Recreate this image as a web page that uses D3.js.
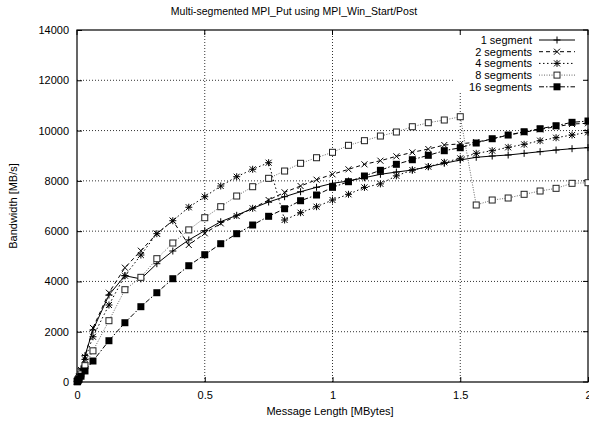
<!DOCTYPE html>
<html>
<head>
<meta charset="utf-8">
<script src="https://d3js.org/d3.v7.min.js"></script>
<style>
  * { margin: 0; padding: 0; }
  body { background: #fff; width: 589px; height: 422px; overflow: hidden; }
  text { font-family: "Liberation Sans", Arial, sans-serif; fill: #000; }
</style>
</head>
<body>
<div id="chart"></div>
<script>
// message sizes in KB (x axis is shown in MB)
var sizesKB = [1, 2, 4, 8, 16, 32, 64, 128, 192, 256, 320, 384, 448, 512, 576, 640, 704, 768,
  832, 896, 960, 1024, 1088, 1152, 1216, 1280, 1344, 1408, 1472, 1536, 1600, 1664, 1728,
  1792, 1856, 1920, 1984, 2048];

var seg1 = [30, 60, 120, 250, 520, 1050, 2070, 3460, 4228, 4100, 4705, 5210, 5650, 6017, 6375,
  6630, 6908, 7159, 7370, 7568, 7743, 7902, 7994, 8125, 8260, 8351, 8431, 8563, 8697, 8830,
  8936, 8988, 9028, 9094, 9160, 9226, 9280, 9320];
var seg2 = [25, 55, 110, 230, 480, 1000, 2150, 3550, 4546, 5222, 5900, 6415, 5450, 5914, 6310,
  6600, 6908, 7238, 7544, 7795, 8046, 8260, 8459, 8658, 8801, 8976, 9135, 9266, 9426, 9470,
  9540, 9664, 9823, 9930, 10050, 10153, 10260, 10290];
var seg4 = [20, 45, 95, 200, 420, 900, 1800, 3062, 4230, 5050, 5900, 6415, 6950, 7370, 7795,
  8165, 8460, 8722, 6443, 6733, 6972, 7238, 7465, 7740, 7880, 8200, 8431, 8563, 8737, 8896,
  9094, 9200, 9333, 9452, 9598, 9716, 9823, 9930];
var seg8 = [15, 30, 70, 150, 320, 650, 1240, 2438, 3671, 4163, 4904, 5528, 6050, 6534, 6972,
  7397, 7767, 8101, 8391, 8698, 8920, 9135, 9413, 9598, 9783, 9943, 10153, 10312, 10420, 10551,
  7040, 7238, 7318, 7465, 7596, 7703, 7902, 7926];
var seg16 = [10, 20, 50, 110, 230, 440, 835, 1642, 2358, 2995, 3551, 4108, 4625, 5063, 5500,
  5898, 6244, 6590, 6892, 7210, 7437, 7743, 7966, 8193, 8419, 8658, 8841, 9016, 9199, 9318,
  9505, 9676, 9823, 9954, 10074, 10193, 10328, 10380];

var seriesNames = ["1 segment", "2 segments", "4 segments", "8 segments", "16 segments"];
var xTicks = [0, 0.5, 1, 1.5, 2];
var yTicks = [0, 2000, 4000, 6000, 8000, 10000, 12000, 14000];

var width = 589, height = 422;
var margin = {top: 30, right: 1, bottom: 40, left: 77};

var svg = d3.select('#chart')
  .append('svg')
  .attr('width', width)
  .attr('height', height);

var x = d3.scaleLinear().domain([0, 2]).range([margin.left, width - margin.right]);
var y = d3.scaleLinear().domain([0, 14000]).range([height - margin.bottom, margin.top]);

// grid
svg.append('g').selectAll('line')
  .data(xTicks.slice(1, -1))
  .enter().append('line')
  .attr('x1', d => x(d)).attr('x2', d => x(d))
  .attr('y1', y(0)).attr('y2', y(14000))
  .attr('stroke', '#333').attr('stroke-width', 1)
  .attr('stroke-dasharray', '1,2');
svg.append('g').selectAll('line')
  .data(yTicks.slice(1, -1))
  .enter().append('line')
  .attr('x1', x(0)).attr('x2', x(2))
  .attr('y1', d => y(d)).attr('y2', d => y(d))
  .attr('stroke', '#333').attr('stroke-width', 1)
  .attr('stroke-dasharray', '1,2');

// legend box area is blank in the original
var lg = {x: 455, y: 33, w: 131, h: 60};
svg.append('rect')
  .attr('x', lg.x).attr('y', lg.y).attr('width', lg.w).attr('height', lg.h)
  .attr('fill', '#fff');

// axes (labels only, ticks drawn inward)
var xAxis = d3.axisBottom(x).tickValues(xTicks).tickSizeInner(-5).tickSizeOuter(0)
  .tickPadding(9).tickFormat(d3.format('~g'));
var yAxis = d3.axisLeft(y).tickValues(yTicks).tickSizeInner(-5).tickSizeOuter(0)
  .tickPadding(8).tickFormat(d3.format('d'));

var gx = svg.append('g').attr('transform', 'translate(0,' + y(0) + ')').call(xAxis);
var gy = svg.append('g').attr('transform', 'translate(' + x(0) + ',0)').call(yAxis);
[gx, gy].forEach(function(g) {
  g.select('.domain').remove();
  g.selectAll('text').style('font-size', '11px').style('font-family', '"Liberation Sans", Arial, sans-serif');
  g.selectAll('line').attr('stroke', '#000');
});

// mirror ticks on top and right
svg.append('g').selectAll('line').data(xTicks).enter().append('line')
  .attr('x1', d => x(d)).attr('x2', d => x(d))
  .attr('y1', y(14000)).attr('y2', y(14000) + 5).attr('stroke', '#000');
svg.append('g').selectAll('line').data(yTicks).enter().append('line')
  .attr('x1', x(2)).attr('x2', x(2) - 5)
  .attr('y1', d => y(d)).attr('y2', d => y(d)).attr('stroke', '#000');

// frame
svg.append('rect')
  .attr('x', x(0)).attr('y', y(14000))
  .attr('width', x(2) - x(0)).attr('height', y(0) - y(14000))
  .attr('fill', 'none').attr('stroke', '#000').attr('stroke-width', 1.2);

// series
var styles = [
  {dash: null, color: '#000', mark: 'plus'},
  {dash: '4,3', color: '#000', mark: 'cross'},
  {dash: '1.5,2.5', color: '#000', mark: 'star'},
  {dash: '1,1.5', color: '#666', mark: 'box'},
  {dash: '5,2,1.5,2', color: '#000', mark: 'fbox'}
];
var allSeries = [seg1, seg2, seg4, seg8, seg16];

var line = d3.line()
  .x((d, i) => x(sizesKB[i] / 1024))
  .y(d => y(d));

function drawMarker(g, type, cx, cy) {
  var s = 3.5;
  if (type === 'plus' || type === 'star') {
    g.append('path').attr('d', 'M' + (cx - s) + ',' + cy + 'H' + (cx + s) + 'M' + cx + ',' + (cy - s) + 'V' + (cy + s))
      .attr('stroke', '#000').attr('stroke-width', 1).attr('fill', 'none');
  }
  if (type === 'cross' || type === 'star') {
    var t = 3;
    g.append('path').attr('d', 'M' + (cx - t) + ',' + (cy - t) + 'L' + (cx + t) + ',' + (cy + t) +
      'M' + (cx - t) + ',' + (cy + t) + 'L' + (cx + t) + ',' + (cy - t))
      .attr('stroke', '#000').attr('stroke-width', 1).attr('fill', 'none');
  }
  if (type === 'box') {
    g.append('rect').attr('x', cx - 3).attr('y', cy - 3).attr('width', 6).attr('height', 6)
      .attr('fill', '#fff').attr('stroke', '#222').attr('stroke-width', 1);
  }
  if (type === 'fbox') {
    g.append('rect').attr('x', cx - 3.5).attr('y', cy - 3.5).attr('width', 7).attr('height', 7)
      .attr('fill', '#000');
  }
}

allSeries.forEach(function(vals, si) {
  var st = styles[si];
  var g = svg.append('g');
  g.append('path')
    .datum(vals)
    .attr('d', line)
    .attr('fill', 'none')
    .attr('stroke', st.color)
    .attr('stroke-width', 1)
    .attr('stroke-dasharray', st.dash);
  vals.forEach(function(v, i) {
    drawMarker(g, st.mark, x(sizesKB[i] / 1024), y(v));
  });
});

// legend
seriesNames.forEach(function(name, i) {
  var ly = 40 + i * 11.7;
  var st = styles[i];
  svg.append('text')
    .attr('x', 532).attr('y', ly + 4)
    .attr('text-anchor', 'end')
    .style('font-size', '11px')
    .text(name);
  var g = svg.append('g');
  g.append('line')
    .attr('x1', 539).attr('x2', 575).attr('y1', ly).attr('y2', ly)
    .attr('stroke', st.color).attr('stroke-width', 1)
    .attr('stroke-dasharray', st.dash);
  drawMarker(g, st.mark, 557, ly);
});

// titles
svg.append('text')
  .attr('x', 294).attr('y', 15)
  .attr('text-anchor', 'middle')
  .style('font-size', '10.5px')
  .text('Multi-segmented MPI_Put using MPI_Win_Start/Post');

svg.append('text')
  .attr('x', 330).attr('y', 415)
  .attr('text-anchor', 'middle')
  .style('font-size', '11px')
  .text('Message Length [MBytes]');

svg.append('text')
  .attr('transform', 'translate(17,' + 206 + ') rotate(-90)')
  .attr('text-anchor', 'middle')
  .style('font-size', '11px')
  .text('Bandwidth [MB/s]');
</script>
</body>
</html>
